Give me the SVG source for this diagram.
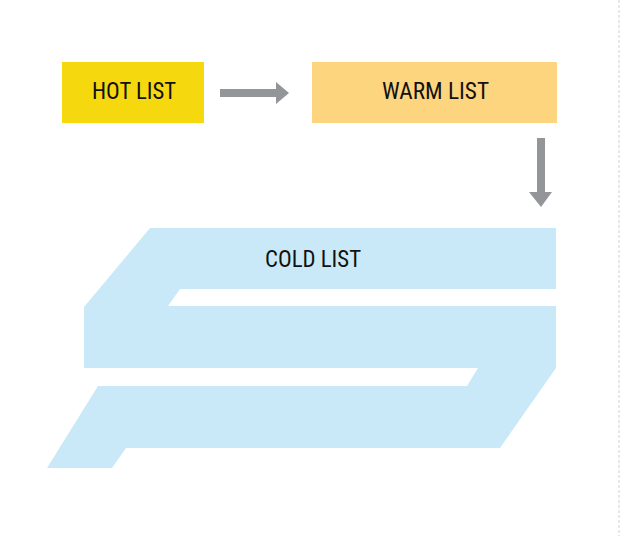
<svg xmlns="http://www.w3.org/2000/svg" width="620" height="536" viewBox="0 0 620 536">
  <style>
    .lbl { font-family: "Roboto Condensed", "Liberation Sans Narrow", "Liberation Sans", Arial, sans-serif; font-size: 23px; fill: #111111; }
    .arrow { fill: #939598; }
  </style>
  <rect x="0" y="0" width="620" height="536" fill="#ffffff"/>
  <line x1="619" y1="0" x2="619" y2="536" stroke="#d0d0d0" stroke-width="1" stroke-dasharray="3 2"/>
  <g id="hot-list">
    <rect x="62" y="62" width="142" height="61" fill="#F6D80E"/>
    <text class="lbl" x="92" y="99" textLength="84" lengthAdjust="spacingAndGlyphs">HOT LIST</text>
  </g>
  <g id="warm-list">
    <rect x="312" y="62" width="245" height="61" fill="#FDD57E"/>
    <text class="lbl" x="382" y="99" textLength="107" lengthAdjust="spacingAndGlyphs">WARM LIST</text>
  </g>
  <g id="cold-list">
    <polygon fill="#CAE9F8" points="150,228 556,228 556,289 180,289 168,306 556,306 556,368 500,448 126,448 112,468 47,468 98,386 467,386 478,368 84,368 84,307"/>
    <text class="lbl" x="265" y="267" textLength="96" lengthAdjust="spacingAndGlyphs">COLD LIST</text>
  </g>
  <g id="connectors">
    <polygon class="arrow" points="220,89 276,89 276,82 289,93 276,104 276,97 220,97"/>
    <polygon class="arrow" points="537,138 545,138 545,192 552,192 541,207 529,192 537,192"/>
  </g>
</svg>
